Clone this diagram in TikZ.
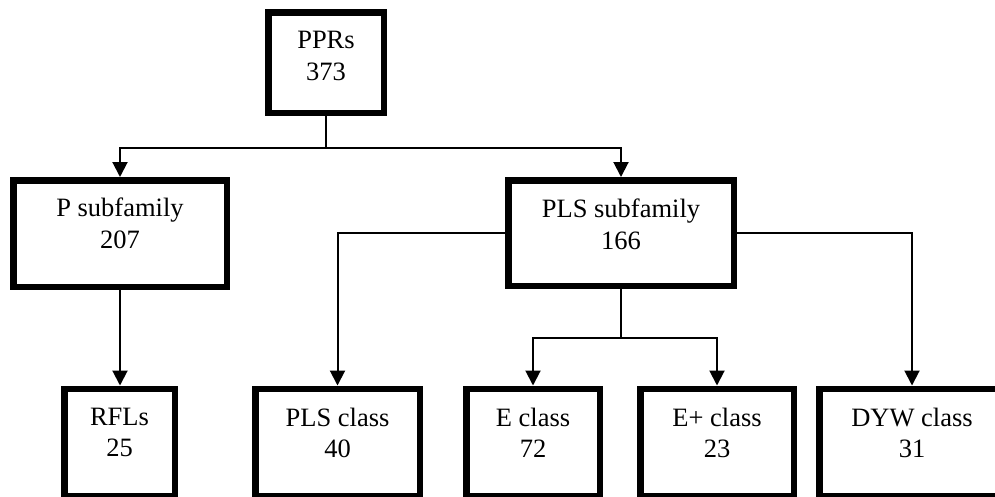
\documentclass[tikz,border=0pt]{standalone}
\usepackage{fontspec}
\setmainfont{Liberation Serif}
\usetikzlibrary{arrows.meta}
\begin{document}
\begin{tikzpicture}[x=1pt,y=-1pt,
  box/.style={draw=black, line width=6.5pt, fill=white, inner sep=0pt},
  txt/.style={align=center, inner sep=0pt, anchor=north, font=\fontsize{26.5}{31.5}\selectfont},
  conn/.style={draw=black, line width=2pt},
  arr/.style={conn, -{Triangle[length=15pt,width=15pt]}}]
\path[use as bounding box, clip] (0,0) rectangle (995,496);
\fill[white] (0,0) rectangle (995,496);
% boxes
\node[box, minimum width=115.5pt, minimum height=100.5pt] (ppr) at (326,62.5) {};
\node[box, minimum width=213.5pt, minimum height=106.5pt] (psub) at (120,233.5) {};
\node[box, minimum width=225.5pt, minimum height=105.5pt] (plssub) at (621,233) {};
\node[box, minimum width=110.5pt, minimum height=107.5pt] (rfl) at (119.5,442.5) {};
\node[box, minimum width=164.5pt, minimum height=107.5pt] (plsc) at (337.5,442.5) {};
\node[box, minimum width=133.5pt, minimum height=107.5pt] (ec) at (533,442.5) {};
\node[box, minimum width=153.5pt, minimum height=107.5pt] (epc) at (717,442.5) {};
\node[box, minimum width=185.5pt, minimum height=107.5pt] (dyw) at (912,442.5) {};
% texts
\node[txt] (ppr-t) at ([yshift=-22pt]ppr.north) {PPRs\\373};
\node[txt] (psub-t) at ([yshift=-21pt]psub.north) {P subfamily\\207};
\node[txt] (plssub-t) at ([yshift=-22pt]plssub.north) {PLS subfamily\\166};
\node[txt] (rfl-t) at ([yshift=-22pt]rfl.north) {RFLs\\25};
\node[txt] (plsc-t) at ([yshift=-22pt]plsc.north) {PLS class\\40};
\node[txt] (ec-t) at ([yshift=-22pt]ec.north) {E class\\72};
\node[txt] (epc-t) at ([yshift=-22pt]epc.north) {E+ class\\23};
\node[txt] (dyw-t) at ([yshift=-22pt]dyw.north) {DYW class\\31};
% connectors
\coordinate (j1) at (326,148);
\coordinate (j2) at (621,338);
\draw[conn] (ppr.south) -- (j1);
\draw[arr] (j1) -| (psub.north);
\draw[arr] (j1) -| (plssub.north);
\draw[arr] (psub.south) -- (psub.south |- rfl.north);
\draw[arr] (plssub.west) -| (plsc.north);
\draw[arr] (plssub.east) -| (dyw.north);
\draw[conn] (plssub.south) -- (j2);
\draw[arr] (j2) -| (ec.north);
\draw[arr] (j2) -| (epc.north);
\end{tikzpicture}
\end{document}
